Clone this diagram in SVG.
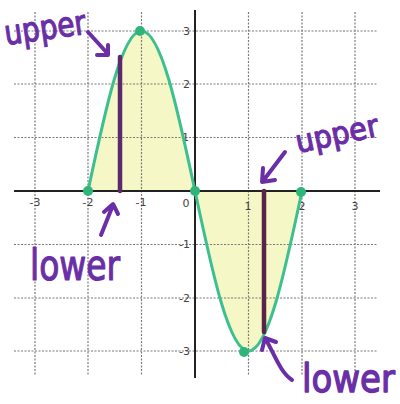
<svg xmlns="http://www.w3.org/2000/svg" width="400" height="404" viewBox="0 0 400 404">
<defs>
<style>
.grid{stroke:#7a7a7a;stroke-width:1.2;stroke-dasharray:2 1.5;fill:none}
.axis{stroke:#222;stroke-width:2;fill:none}
.tick{font-family:"DejaVu Sans",sans-serif;font-size:11px;fill:#444}
.hand{font-family:"DejaVu Sans",sans-serif;fill:#6a2ea6;stroke:#6a2ea6;stroke-width:1.2;stroke-linejoin:round}
.arrow{stroke:#6a2ea6;stroke-width:4;fill:none;stroke-linecap:round;stroke-linejoin:round}
.curve{stroke:#3dbf8f;stroke-width:3;fill:none}
.dot{fill:#2fb57a}
.bar{stroke-width:4.5;stroke-linecap:round}
</style>
</defs>
<rect width="400" height="404" fill="#ffffff"/>
<g id="fill">
<path d="M88,191 C105.4,109 122.1,31 141.5,31 C160.9,31 177.6,109 195,191 C212.4,273 229.1,351 248.5,351 C267.9,351 284.6,273 302,191 Z" fill="#f6f7c6"/>
</g>
<g id="grid">
<path class="grid" d="M35,12V376M88,12V376M141.5,12V376M248.5,12V376M302,12V376M355,12V376"/>
<path class="grid" d="M14,31H378M14,84H378M14,137.5H378M14,244.5H378M14,298H378M14,351H378"/>
</g>
<g id="axes">
<path class="axis" d="M14,191H380M195,10V378"/>
</g>
<g id="ticks">
<text class="tick" x="190" y="35" text-anchor="end">3</text>
<text class="tick" x="190" y="88" text-anchor="end">2</text>
<text class="tick" x="189" y="141" text-anchor="end">1</text>
<text class="tick" x="190" y="248" text-anchor="end">-1</text>
<text class="tick" x="190" y="302" text-anchor="end">-2</text>
<text class="tick" x="190" y="355" text-anchor="end">-3</text>
<text class="tick" x="35" y="206" text-anchor="middle">-3</text>
<text class="tick" x="88" y="206" text-anchor="middle">-2</text>
<text class="tick" x="141" y="206" text-anchor="middle">-1</text>
<text class="tick" x="186" y="207" text-anchor="middle">0</text>
<text class="tick" x="248" y="210" text-anchor="middle">1</text>
<text class="tick" x="302" y="210" text-anchor="middle">2</text>
<text class="tick" x="355" y="210" text-anchor="middle">3</text>
</g>
<g id="curve">
<path class="curve" d="M88,191 C105.4,109 122.1,31 141.5,31 C160.9,31 177.6,109 195,191 C212.4,273 229.1,351 248.5,351 C267.9,351 284.6,273 302,191"/>
<circle class="dot" cx="88" cy="191" r="5"/>
<circle class="dot" cx="140" cy="31" r="5"/>
<circle class="dot" cx="195" cy="191" r="5"/>
<circle class="dot" cx="244" cy="352" r="5"/>
<circle class="dot" cx="301" cy="192" r="5"/>
</g>
<g id="bars">
<line class="bar" x1="120" y1="191" x2="120" y2="57" stroke="#5b2a6e"/>
<line class="bar" x1="264" y1="191" x2="264" y2="332" stroke="#5a2448"/>
</g>
<g id="labels">
<text class="hand" x="6" y="45" font-size="34" textLength="82" lengthAdjust="spacingAndGlyphs" transform="rotate(-8 6 45)">upper</text>
<text class="hand" x="298" y="153" font-size="31" textLength="84" lengthAdjust="spacingAndGlyphs" transform="rotate(-12 298 153)">upper</text>
<text class="hand" x="30" y="280" font-size="42" textLength="90" lengthAdjust="spacingAndGlyphs">lower</text>
<text class="hand" x="0" y="0" font-size="34" transform="translate(302 392) scale(1 1.15)">lower</text>
</g>
<g id="connectors">
<path class="arrow" d="M88,32 L108,54 M97,55 L108,55 L108,45"/>
<path class="arrow" d="M285,152 L263,181 M263,168 L262,182 L275,180"/>
<path class="arrow" d="M101,235 L113,205 M104,212 L113,204 L118,214"/>
<path class="arrow" d="M292,380 C280,372 275,355 265,338 M262,350 L265,338 L276,342"/>
</g>
</svg>
